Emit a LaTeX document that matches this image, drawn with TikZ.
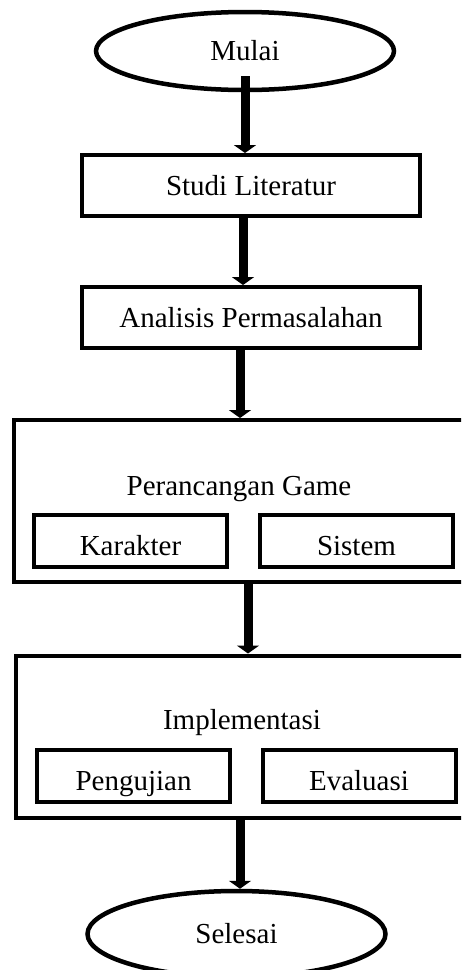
\documentclass[tikz,border=0pt]{standalone}
\usepackage{fontspec}
\setmainfont{Liberation Serif}
\usepackage{tikz}
\usetikzlibrary{shapes.geometric,arrows.meta}
\tikzset{terminal/.style={ellipse, draw, line width=4.5pt, minimum width=298pt, minimum height=78pt, inner sep=0pt}}
\tikzset{process/.style={rectangle, draw, line width=4pt, minimum width=338pt, minimum height=61pt, inner sep=0pt}}
\tikzset{group/.style={rectangle, draw, line width=4pt, minimum width=459pt, minimum height=162pt}}
\tikzset{part/.style={rectangle, draw, line width=4pt, minimum width=193pt, minimum height=52pt,
      text height=28pt, text depth=0pt, inner sep=0pt}}
\tikzset{flow/.style={line width=9pt, -{Triangle[width=22pt,length=8pt]}}}

\begin{document}
\begin{tikzpicture}[x=1pt, y=-1pt, font=\fontsize{29}{34}\selectfont]
    \useasboundingbox (0,0) rectangle (461,970);
    \clip (0,0) rectangle (461,970);
    \node[terminal] (mulai) at (245,51) {Mulai};
    \node[process] (studi) at (251,185.5) {Studi Literatur};
    \node[process] (analisis) at (251,317.5) {Analisis Permasalahan};
    \node[group] (perancangan) at (243.5,501) {};
    \node[anchor=base] (judulgame) at (239,495) {Perancangan Game};
    \node[part] (karakter) at (130.5,541) {Karakter};
    \node[part] (sistem) at (356.5,541) {Sistem};
    \node[group] (implementasi) at (245.5,736.5) {};
    \node[anchor=base] (judulimpl) at (242,729) {Implementasi};
    \node[part] (pengujian) at (133.5,776) {Pengujian};
    \node[part] (evaluasi) at (359,776) {Evaluasi};
    \node[terminal, minimum height=86pt] (selesai) at (236.5,934) {Selesai};
    \draw[flow] ([yshift=16pt]mulai.south) -- ([xshift=-6pt]studi.north);
    \draw[flow] ([xshift=-8pt]studi.south) -- ([xshift=-8pt]analisis.north);
    \draw[flow] ([xshift=-11pt]analisis.south) -- ([xshift=-3.5pt]perancangan.north);
    \draw[flow] ([xshift=4.5pt]perancangan.south) -- ([xshift=2.5pt]implementasi.north);
    \draw[flow] ([xshift=-5.5pt]implementasi.south) -- ([xshift=3.5pt]selesai.north);
\end{tikzpicture}
\end{document}
